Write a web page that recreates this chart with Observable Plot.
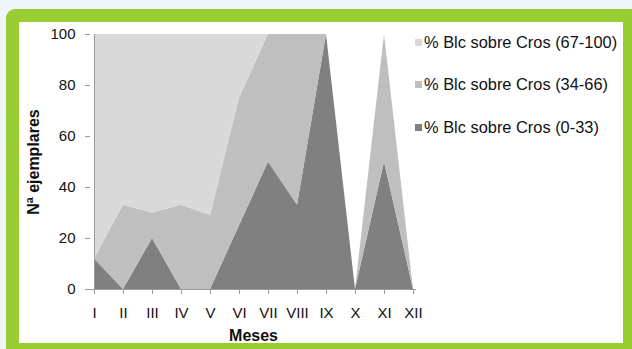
<!DOCTYPE html>
<html>
<head>
<meta charset="utf-8">
<script src="https://cdn.jsdelivr.net/npm/d3@7"></script>
<script src="https://cdn.jsdelivr.net/npm/@observablehq/plot@0.6"></script>
<style>
  html, body { margin: 0; padding: 0; width: 632px; height: 349px; overflow: hidden; background: #eef6fc; font-family: "Liberation Sans", Arial, sans-serif; }
  #frame { position: absolute; left: 6px; top: 9px; width: 640px; height: 350px; background: #9acd32; border-radius: 9px; }
  #panel { position: absolute; left: 19px; top: 22px; width: 604px; height: 321px; background: #ffffff; }
  #chart { position: absolute; left: 0; top: 0; }
  #legend { position: absolute; left: 0; top: 0; }
  .item { position: absolute; left: 415px; height: 20px; display: flex; align-items: center; font-size: 16.4px; color: #111; white-space: nowrap; }
  .swatch { width: 7px; height: 7px; margin-right: 2px; }
</style>
</head>
<body>
<div id="frame"></div>
<div id="panel"></div>
<div id="chart"></div>
<div id="legend"></div>
<script>
// Months (x categories)
const meses = ["I", "II", "III", "IV", "V", "VI", "VII", "VIII", "IX", "X", "XI", "XII"];
// Series names, bottom to top of the stack
const series = ["% Blc sobre Cros (0-33)", "% Blc sobre Cros (34-66)", "% Blc sobre Cros (67-100)"];
// Values per month for each series
const bajo  = [12, 0, 20, 0, 0, 25, 50, 33, 100, 0, 50, 0];
const medio = [0, 33, 10, 33, 29, 50, 50, 67, 0, 0, 50, 0];
const alto  = [88, 67, 70, 67, 71, 25, 0, 0, 0, 0, 0, 0];
const colores = ["#808080", "#bfbfbf", "#d9d9d9"];
const yTicks = [0, 20, 40, 60, 80, 100];

const valores = [bajo, medio, alto];
const rows = [];
series.forEach((s, i) => meses.forEach((m, j) => rows.push({ mes: m, serie: s, valor: valores[i][j] })));

const chart = Plot.plot({
  width: 632,
  height: 349,
  marginLeft: 90,
  marginRight: 216,
  marginTop: 34,
  marginBottom: 60,
  style: { background: "transparent", fontFamily: "'Liberation Sans', Arial, sans-serif", fontSize: "15px", color: "#111" },
  x: { type: "point", domain: meses, padding: 0, label: null },
  y: { domain: [0, 100], label: null },
  color: { domain: series, range: colores },
  marks: [
    Plot.areaY(rows, { x: "mes", y: "valor", fill: "serie", order: series }),
    Plot.ruleY([0], { stroke: "#9a9a9a" }),
    Plot.ruleX([meses[0]], { stroke: "#9a9a9a" }),
    Plot.axisY({ ticks: yTicks, tickSize: 5, tickPadding: 10, stroke: "#9a9a9a", label: null }),
    Plot.axisX({ tickSize: 5, tickPadding: 13, stroke: "#9a9a9a", label: null }),
    Plot.text(["Nª ejemplares"], { text: d => d, frameAnchor: "left", dx: -57, rotate: -90, textAnchor: "middle", lineAnchor: "middle", fontWeight: "bold", fontSize: 16 }),
    Plot.text(["Meses"], { text: d => d, frameAnchor: "bottom", dy: 46, lineAnchor: "middle", fontWeight: "bold", fontSize: 16 })
  ]
});
document.getElementById("chart").appendChild(chart);

// Legend, top entry is the top of the stack
const legend = document.getElementById("legend");
const tops = [32, 74.5, 117];
[2, 1, 0].forEach((i, k) => {
  const item = document.createElement("div");
  item.className = "item";
  item.style.top = tops[k] + "px";
  const sw = document.createElement("span");
  sw.className = "swatch";
  sw.style.background = colores[i];
  const label = document.createElement("span");
  label.textContent = series[i];
  item.appendChild(sw);
  item.appendChild(label);
  legend.appendChild(item);
});
</script>
</body>
</html>
